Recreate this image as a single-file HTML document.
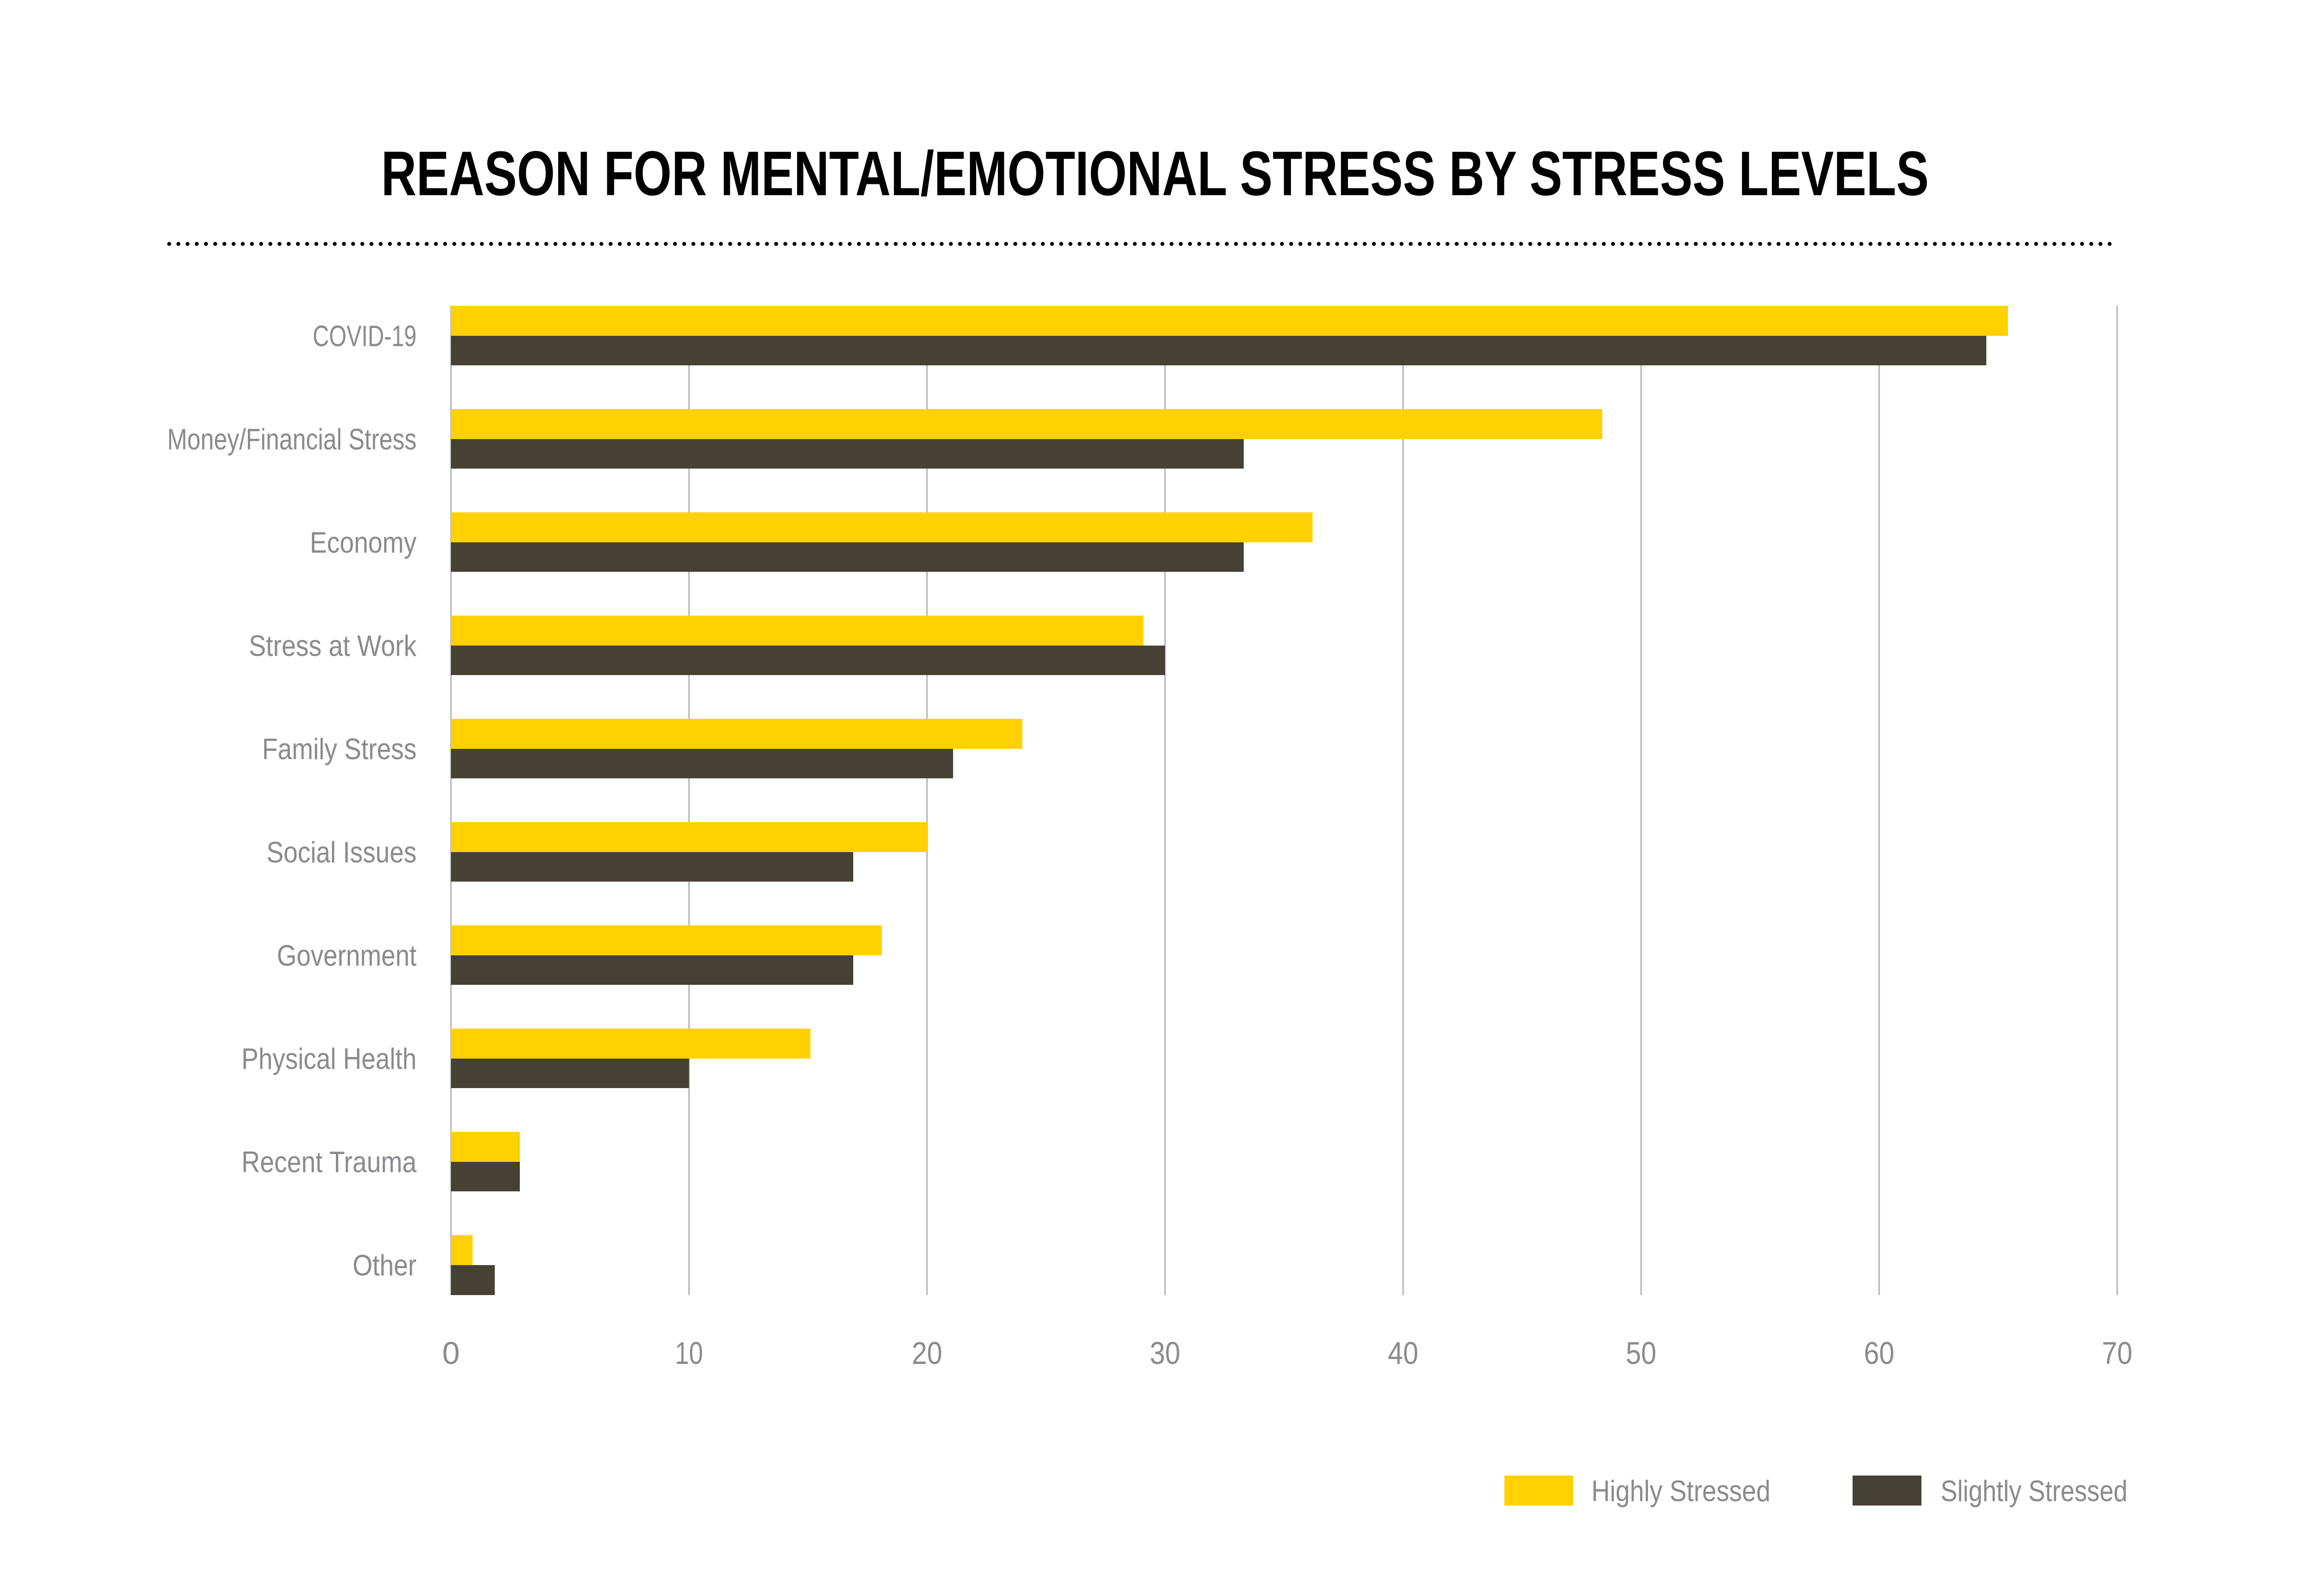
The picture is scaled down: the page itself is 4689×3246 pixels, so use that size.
<!DOCTYPE html>
<html><head><meta charset="utf-8"><style>
html,body{margin:0;padding:0;background:#fff;}
svg{display:block;}
text{font-family:"Liberation Sans",sans-serif;}
</style></head><body>
<svg width="4689" height="3246" viewBox="0 0 4689 3246" xmlns="http://www.w3.org/2000/svg">
<rect width="4689" height="3246" fill="#fff"/>
<text x="775" y="397" font-size="128" font-weight="bold" fill="#000" textLength="3147" lengthAdjust="spacingAndGlyphs">REASON FOR MENTAL/EMOTIONAL STRESS BY STRESS LEVELS</text>
<line x1="344" y1="496" x2="4306" y2="496" stroke="#000" stroke-width="8" stroke-linecap="round" stroke-dasharray="0 18.7"/>
<g stroke="#b4b4ba" stroke-width="3">
<line x1="917" y1="622" x2="917" y2="2634"/>
<line x1="1401" y1="622" x2="1401" y2="2634"/>
<line x1="1885" y1="622" x2="1885" y2="2634"/>
<line x1="2369" y1="622" x2="2369" y2="2634"/>
<line x1="2853" y1="622" x2="2853" y2="2634"/>
<line x1="3337" y1="622" x2="3337" y2="2634"/>
<line x1="3821" y1="622" x2="3821" y2="2634"/>
<line x1="4305" y1="622" x2="4305" y2="2634"/>
</g>
<g fill="#8a8a8f" font-size="60" text-anchor="end">
<text x="847" y="704" textLength="211" lengthAdjust="spacingAndGlyphs">COVID-19</text>
<text x="847" y="914" textLength="507" lengthAdjust="spacingAndGlyphs">Money/Financial Stress</text>
<text x="847" y="1124" textLength="217" lengthAdjust="spacingAndGlyphs">Economy</text>
<text x="847" y="1334" textLength="341" lengthAdjust="spacingAndGlyphs">Stress at Work</text>
<text x="847" y="1544" textLength="314" lengthAdjust="spacingAndGlyphs">Family Stress</text>
<text x="847" y="1754" textLength="305" lengthAdjust="spacingAndGlyphs">Social Issues</text>
<text x="847" y="1964" textLength="284" lengthAdjust="spacingAndGlyphs">Government</text>
<text x="847" y="2174" textLength="356" lengthAdjust="spacingAndGlyphs">Physical Health</text>
<text x="847" y="2384" textLength="356" lengthAdjust="spacingAndGlyphs">Recent Trauma</text>
<text x="847" y="2594" textLength="130" lengthAdjust="spacingAndGlyphs">Other</text>
</g>
<g fill="#8a8a8f" font-size="64" text-anchor="middle">
<text x="917" y="2774">0</text>
<text x="1401" y="2774" textLength="57" lengthAdjust="spacingAndGlyphs">10</text>
<text x="1885" y="2774" textLength="62" lengthAdjust="spacingAndGlyphs">20</text>
<text x="2369" y="2774" textLength="62" lengthAdjust="spacingAndGlyphs">30</text>
<text x="2853" y="2774" textLength="62" lengthAdjust="spacingAndGlyphs">40</text>
<text x="3337" y="2774" textLength="62" lengthAdjust="spacingAndGlyphs">50</text>
<text x="3821" y="2774" textLength="62" lengthAdjust="spacingAndGlyphs">60</text>
<text x="4305" y="2774" textLength="62" lengthAdjust="spacingAndGlyphs">70</text>
</g>
<g>
<rect x="917" y="622" width="3166" height="61" fill="#FFD100"/>
<rect x="917" y="683" width="3122" height="60" fill="#464135"/>
<rect x="917" y="832" width="2341" height="61" fill="#FFD100"/>
<rect x="917" y="893" width="1612" height="60" fill="#464135"/>
<rect x="917" y="1042" width="1752" height="61" fill="#FFD100"/>
<rect x="917" y="1103" width="1612" height="60" fill="#464135"/>
<rect x="917" y="1252" width="1408" height="61" fill="#FFD100"/>
<rect x="917" y="1313" width="1452" height="60" fill="#464135"/>
<rect x="917" y="1462" width="1162" height="61" fill="#FFD100"/>
<rect x="917" y="1523" width="1021" height="60" fill="#464135"/>
<rect x="917" y="1672" width="968" height="61" fill="#FFD100"/>
<rect x="917" y="1733" width="818" height="60" fill="#464135"/>
<rect x="917" y="1882" width="876" height="61" fill="#FFD100"/>
<rect x="917" y="1943" width="818" height="60" fill="#464135"/>
<rect x="917" y="2092" width="731" height="61" fill="#FFD100"/>
<rect x="917" y="2153" width="484" height="60" fill="#464135"/>
<rect x="917" y="2302" width="140" height="61" fill="#FFD100"/>
<rect x="917" y="2363" width="140" height="60" fill="#464135"/>
<rect x="917" y="2512" width="44" height="61" fill="#FFD100"/>
<rect x="917" y="2573" width="89" height="61" fill="#464135"/>
</g>
<rect x="3059" y="3001" width="140" height="61" fill="#FFD100"/>
<text x="3236" y="3053" font-size="60" fill="#8a8a8f" textLength="364" lengthAdjust="spacingAndGlyphs">Highly Stressed</text>
<rect x="3767" y="3001" width="140" height="61" fill="#464135"/>
<text x="3946" y="3053" font-size="60" fill="#8a8a8f" textLength="380" lengthAdjust="spacingAndGlyphs">Slightly Stressed</text>
</svg>
</body></html>
